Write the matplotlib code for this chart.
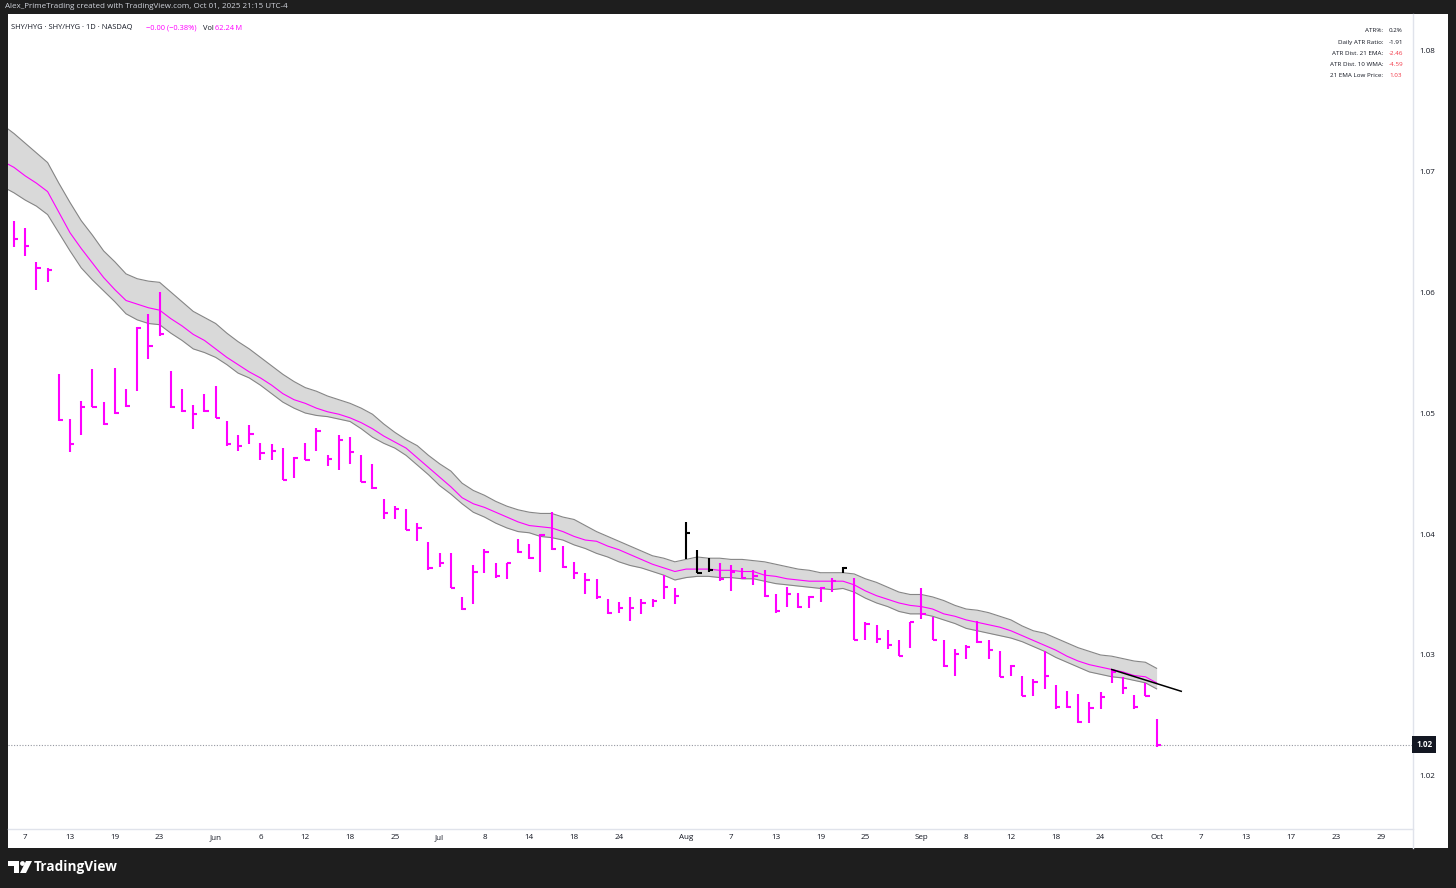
# SHY/HYG daily bars with 21 EMA band, TradingView style
import numpy as np
import matplotlib.pyplot as plt
from matplotlib.patches import Rectangle, Circle, Polygon

plt.rcParams['font.family'] = ['Open Sans', 'DejaVu Sans']

# bar data (trading days May 6 .. Oct 1, 2025)
highs = [
    1.0659, 1.0653, 1.0625, 1.0620, 1.0532, 1.0495, 1.0510, 1.0536, 1.0509, 1.0537,
    1.0520, 1.0571, 1.0582, 1.0600, 1.0535, 1.0520, 1.0507, 1.0516, 1.0522, 1.0493,
    1.0482, 1.0490, 1.0475, 1.0474, 1.0471, 1.0464, 1.0475, 1.0488, 1.0465, 1.0482,
    1.0480, 1.0465, 1.0458, 1.0429, 1.0423, 1.0421, 1.0409, 1.0393, 1.0384, 1.0384,
    1.0348, 1.0374, 1.0388, 1.0376, 1.0376, 1.0396, 1.0392, 1.0400, 1.0418, 1.0390,
    1.0377, 1.0368, 1.0363, 1.0346, 1.0344, 1.0348, 1.0346, 1.0346, 1.0366, 1.0355,
    1.0410, 1.0387, 1.0380, 1.0376, 1.0374, 1.0372, 1.0370, 1.0370, 1.0350, 1.0356,
    1.0351, 1.0349, 1.0356, 1.0364, 1.0373, 1.0364, 1.0327, 1.0325, 1.0321, 1.0312,
    1.0327, 1.0355, 1.0331, 1.0312, 1.0305, 1.0308, 1.0328, 1.0312, 1.0303, 1.0292,
    1.0283, 1.0280, 1.0303, 1.0275, 1.0270, 1.0268, 1.0261, 1.0269, 1.0288, 1.0282,
    1.0267, 1.0277, 1.0247]
lows = [
    1.0637, 1.0630, 1.0602, 1.0608, 1.0493, 1.0468, 1.0482, 1.0505, 1.0490, 1.0499,
    1.0505, 1.0518, 1.0545, 1.0564, 1.0504, 1.0501, 1.0487, 1.0501, 1.0496, 1.0473,
    1.0469, 1.0474, 1.0461, 1.0461, 1.0445, 1.0446, 1.0461, 1.0469, 1.0456, 1.0453,
    1.0458, 1.0443, 1.0437, 1.0412, 1.0412, 1.0403, 1.0394, 1.0370, 1.0373, 1.0355,
    1.0337, 1.0342, 1.0368, 1.0364, 1.0363, 1.0384, 1.0379, 1.0369, 1.0387, 1.0372,
    1.0363, 1.0350, 1.0346, 1.0334, 1.0335, 1.0328, 1.0334, 1.0340, 1.0346, 1.0342,
    1.0379, 1.0368, 1.0369, 1.0361, 1.0353, 1.0363, 1.0358, 1.0348, 1.0335, 1.0340,
    1.0339, 1.0339, 1.0344, 1.0352, 1.0368, 1.0312, 1.0312, 1.0310, 1.0305, 1.0299,
    1.0306, 1.0330, 1.0312, 1.0290, 1.0283, 1.0297, 1.0310, 1.0297, 1.0282, 1.0283,
    1.0266, 1.0266, 1.0272, 1.0255, 1.0256, 1.0244, 1.0244, 1.0255, 1.0277, 1.0268,
    1.0255, 1.0266, 1.0224]
closes = [
    1.0644, 1.0638, 1.0620, 1.0618, 1.0494, 1.0474, 1.0505, 1.0505, 1.0491, 1.0500,
    1.0506, 1.0570, 1.0555, 1.0565, 1.0505, 1.0502, 1.0499, 1.0502, 1.0496, 1.0474,
    1.0473, 1.0483, 1.0467, 1.0469, 1.0445, 1.0463, 1.0461, 1.0485, 1.0462, 1.0478,
    1.0468, 1.0443, 1.0438, 1.0417, 1.0421, 1.0403, 1.0405, 1.0372, 1.0376, 1.0355,
    1.0338, 1.0369, 1.0385, 1.0365, 1.0376, 1.0385, 1.0380, 1.0399, 1.0388, 1.0373,
    1.0368, 1.0362, 1.0348, 1.0335, 1.0339, 1.0339, 1.0343, 1.0345, 1.0356, 1.0349,
    1.0401, 1.0368, 1.0370, 1.0363, 1.0369, 1.0364, 1.0365, 1.0349, 1.0336, 1.0350,
    1.0340, 1.0348, 1.0355, 1.0361, 1.0372, 1.0312, 1.0326, 1.0313, 1.0308, 1.0299,
    1.0327, 1.0334, 1.0312, 1.0291, 1.0301, 1.0307, 1.0311, 1.0304, 1.0282, 1.0291,
    1.0266, 1.0278, 1.0283, 1.0257, 1.0257, 1.0245, 1.0256, 1.0265, 1.0286, 1.0273,
    1.0257, 1.0266, 1.0226]
black_bars = [60, 61, 62, 74]

# 21 EMA band (starts one bar before the first visible bar)
band_up = [
    1.0738,
    1.0731, 1.0723, 1.0715, 1.0707, 1.0690, 1.0674, 1.0659, 1.0647, 1.0634, 1.0625,
    1.0615, 1.0611, 1.0609, 1.0608, 1.0600, 1.0592, 1.0584, 1.0579, 1.0574, 1.0566,
    1.0559, 1.0553, 1.0546, 1.0539, 1.0532, 1.0526, 1.0521, 1.0518, 1.0514, 1.0511,
    1.0508, 1.0504, 1.0499, 1.0491, 1.0484, 1.0478, 1.0473, 1.0465, 1.0458, 1.0452,
    1.0442, 1.0436, 1.0432, 1.0427, 1.0423, 1.0420, 1.0418, 1.0417, 1.0417, 1.0414,
    1.0412, 1.0407, 1.0402, 1.0398, 1.0394, 1.0390, 1.0386, 1.0382, 1.0380, 1.0377,
    1.0379, 1.0381, 1.0380, 1.0380, 1.0379, 1.0379, 1.0378, 1.0377, 1.0375, 1.0373,
    1.0371, 1.0370, 1.0368, 1.0368, 1.0368, 1.0367, 1.0363, 1.0360, 1.0356, 1.0352,
    1.0350, 1.0350, 1.0348, 1.0345, 1.0341, 1.0338, 1.0337, 1.0335, 1.0332, 1.0329,
    1.0324, 1.0320, 1.0318, 1.0314, 1.0310, 1.0306, 1.0303, 1.0300, 1.0299, 1.0297,
    1.0295, 1.0294, 1.0289]
band_mid = [
    1.0708,
    1.0703, 1.0696, 1.0690, 1.0683, 1.0666, 1.0649, 1.0636, 1.0624, 1.0612, 1.0602,
    1.0593, 1.0590, 1.0587, 1.0585, 1.0578, 1.0572, 1.0565, 1.0560, 1.0553, 1.0546,
    1.0540, 1.0534, 1.0529, 1.0523, 1.0516, 1.0511, 1.0508, 1.0504, 1.0501, 1.0499,
    1.0496, 1.0492, 1.0487, 1.0481, 1.0476, 1.0471, 1.0463, 1.0455, 1.0447, 1.0439,
    1.0430, 1.0425, 1.0422, 1.0418, 1.0414, 1.0410, 1.0407, 1.0406, 1.0405, 1.0402,
    1.0398, 1.0395, 1.0394, 1.0390, 1.0387, 1.0383, 1.0379, 1.0375, 1.0372, 1.0369,
    1.0371, 1.0371, 1.0371, 1.0370, 1.0370, 1.0369, 1.0369, 1.0366, 1.0365, 1.0363,
    1.0362, 1.0361, 1.0361, 1.0361, 1.0361, 1.0358, 1.0353, 1.0349, 1.0346, 1.0343,
    1.0341, 1.0340, 1.0338, 1.0334, 1.0332, 1.0329, 1.0327, 1.0325, 1.0323, 1.0320,
    1.0316, 1.0312, 1.0308, 1.0304, 1.0299, 1.0295, 1.0292, 1.0290, 1.0288, 1.0286,
    1.0283, 1.0282, 1.0277]
band_lo = [
    1.0687,
    1.0682, 1.0676, 1.0671, 1.0664, 1.0649, 1.0634, 1.0620, 1.0610, 1.0601, 1.0592,
    1.0582, 1.0577, 1.0574, 1.0573, 1.0566, 1.0560, 1.0553, 1.0550, 1.0546, 1.0540,
    1.0533, 1.0529, 1.0523, 1.0516, 1.0509, 1.0504, 1.0500, 1.0498, 1.0497, 1.0495,
    1.0493, 1.0487, 1.0480, 1.0475, 1.0471, 1.0465, 1.0457, 1.0449, 1.0440, 1.0433,
    1.0425, 1.0418, 1.0414, 1.0409, 1.0405, 1.0402, 1.0401, 1.0398, 1.0397, 1.0395,
    1.0391, 1.0388, 1.0384, 1.0381, 1.0377, 1.0374, 1.0372, 1.0369, 1.0366, 1.0362,
    1.0364, 1.0365, 1.0365, 1.0364, 1.0364, 1.0363, 1.0363, 1.0361, 1.0359, 1.0358,
    1.0357, 1.0356, 1.0355, 1.0354, 1.0355, 1.0352, 1.0347, 1.0343, 1.0340, 1.0336,
    1.0334, 1.0334, 1.0332, 1.0329, 1.0326, 1.0322, 1.0320, 1.0318, 1.0316, 1.0314,
    1.0311, 1.0307, 1.0303, 1.0298, 1.0294, 1.0290, 1.0286, 1.0284, 1.0282, 1.0281,
    1.0279, 1.0277, 1.0272]

# hand drawn trend line (bar index, price)
trend_x = [98, 104.2]
trend_y = [1.0288, 1.0270]

# x axis: bar index of each label
tick_pos = [1, 5, 9, 13, 18, 22, 26, 30, 34, 38, 42, 46, 50, 54, 60, 64, 68, 72, 76,
            81, 85, 89, 93, 97, 102, 106, 110, 114, 118, 122]
tick_lab = ['7', '13', '19', '23', 'Jun', '6', '12', '18', '25', 'Jul', '8', '14', '18',
            '24', 'Aug', '7', '13', '19', '25', 'Sep', '8', '12', '18', '24', 'Oct',
            '7', '13', '17', '23', '29']
price_ticks = [1.02, 1.03, 1.04, 1.05, 1.06, 1.07, 1.08]

table_labels = ['ATR%:', 'Daily ATR Ratio:', 'ATR Dist. 21 EMA:', 'ATR Dist. 10 WMA:',
                '21 EMA Low Price:']
table_values = ['0.2%', '-1.91', '-2.46', '-4.59', '1.03']
table_colors = ['#131722', '#131722', '#f23645', '#f23645', '#f23645']

MAG = '#ff00ff'
W, H = 1456, 888

fig = plt.figure(figsize=(W / 100, H / 100), dpi=100)
fig.patch.set_facecolor('#1e1e1e')

# background layer in pixel coordinates
bg = fig.add_axes([0, 0, 1, 1])
bg.set_xlim(0, W)
bg.set_ylim(H, 0)
bg.axis('off')
bg.add_patch(Rectangle((8, 14), 1440, 834, facecolor='white', edgecolor='none'))
bg.plot([1412.5, 1412.5], [14, 848], color='#e0e3eb', lw=1)
bg.plot([8, 1412.5], [828.5, 828.5], color='#e0e3eb', lw=1)

bg.text(5, 7, 'Alex_PrimeTrading created with TradingView.com, Oct 01, 2025 21:15 UTC-4',
        color='#d1d4dc', fontsize=5.8, va='center', ha='left')
bg.text(11, 28, 'SHY/HYG \u00b7 SHY/HYG \u00b7 1D \u00b7 NASDAQ', color='#131722',
        fontsize=5.4, va='center', ha='left')
bg.text(146, 28, '\u22120.00 (\u22120.38%)', color=MAG, fontsize=5.4, va='center', ha='left')
bg.text(203, 28, 'Vol', color='#131722', fontsize=5.4, va='center', ha='left')
bg.text(215, 28, '62.24\u2009M', color=MAG, fontsize=5.4, va='center', ha='left')

for k in range(len(table_labels)):
    yy = 31 + k * 11.1
    bg.text(1383, yy, table_labels[k], color='#131722', fontsize=4.5, va='center', ha='right')
    bg.text(1389, yy, table_values[k], color=table_colors[k], fontsize=4.5, va='center', ha='left')

# TradingView logo
bg.add_patch(Polygon([(8, 861), (19, 861), (19, 873), (14, 873), (14, 866), (8, 866)],
                     closed=True, facecolor='white', edgecolor='none'))
bg.add_patch(Circle((22.5, 863.5), 2.4, facecolor='white', edgecolor='none'))
bg.add_patch(Polygon([(26, 861), (32, 861), (26, 873), (20, 873)], closed=True,
                     facecolor='white', edgecolor='none'))
bg.text(34, 867, 'TradingView', color='white', fontsize=9.8, fontweight='bold',
        va='center', ha='left')

# main chart
ax = fig.add_axes([8 / W, 1 - 828 / H, 1404 / W, 814 / H])
ax.set_facecolor('none')
ax.set_xlim(-0.536, 124.8)
ax.set_ylim(1.0157, 1.08298)

bx = np.arange(-1, len(band_mid) - 1)
ax.fill_between(bx, band_lo, band_up, color='#d9d9d9', lw=0, zorder=1)
ax.plot(bx, band_up, color='#858585', lw=0.8, zorder=2)
ax.plot(bx, band_lo, color='#858585', lw=0.8, zorder=2)
ax.plot(bx, band_mid, color=MAG, lw=0.8, zorder=2)

x = np.arange(len(closes))
cols = ['black' if i in black_bars else MAG for i in x]
ax.vlines(x, lows, highs, colors=cols, lw=1.5, zorder=3)
ax.hlines(closes, x, x + 0.38, colors=cols, lw=1.5, zorder=3)

ax.plot(trend_x, trend_y, color='black', lw=1.1, zorder=4)

# last price line and label
ax.axhline(closes[-1], color='#9598a1', lw=0.8, ls=(0, (1, 1.5)), zorder=2)
ax.annotate('1.02', xy=(1, closes[-1]), xycoords=('axes fraction', 'data'),
            xytext=(3.0, 0), textcoords='offset points', ha='left', va='center',
            color='white', fontsize=5.8, fontweight='bold',
            bbox=dict(boxstyle='square,pad=0.5', fc='#131722', ec='none'))

for s in ax.spines.values():
    s.set_visible(False)
ax.yaxis.tick_right()
ax.set_yticks(price_ticks)
ax.set_yticklabels(['%.2f' % p for p in price_ticks])
ax.set_xticks(tick_pos)
ax.set_xticklabels(tick_lab)
ax.tick_params(axis='y', length=0, pad=5.5, labelsize=5.8, labelcolor='#131722')
ax.tick_params(axis='x', length=0, pad=4.5, labelsize=5.8, labelcolor='#131722')

plt.savefig('out.png', dpi=100, facecolor=fig.get_facecolor())
